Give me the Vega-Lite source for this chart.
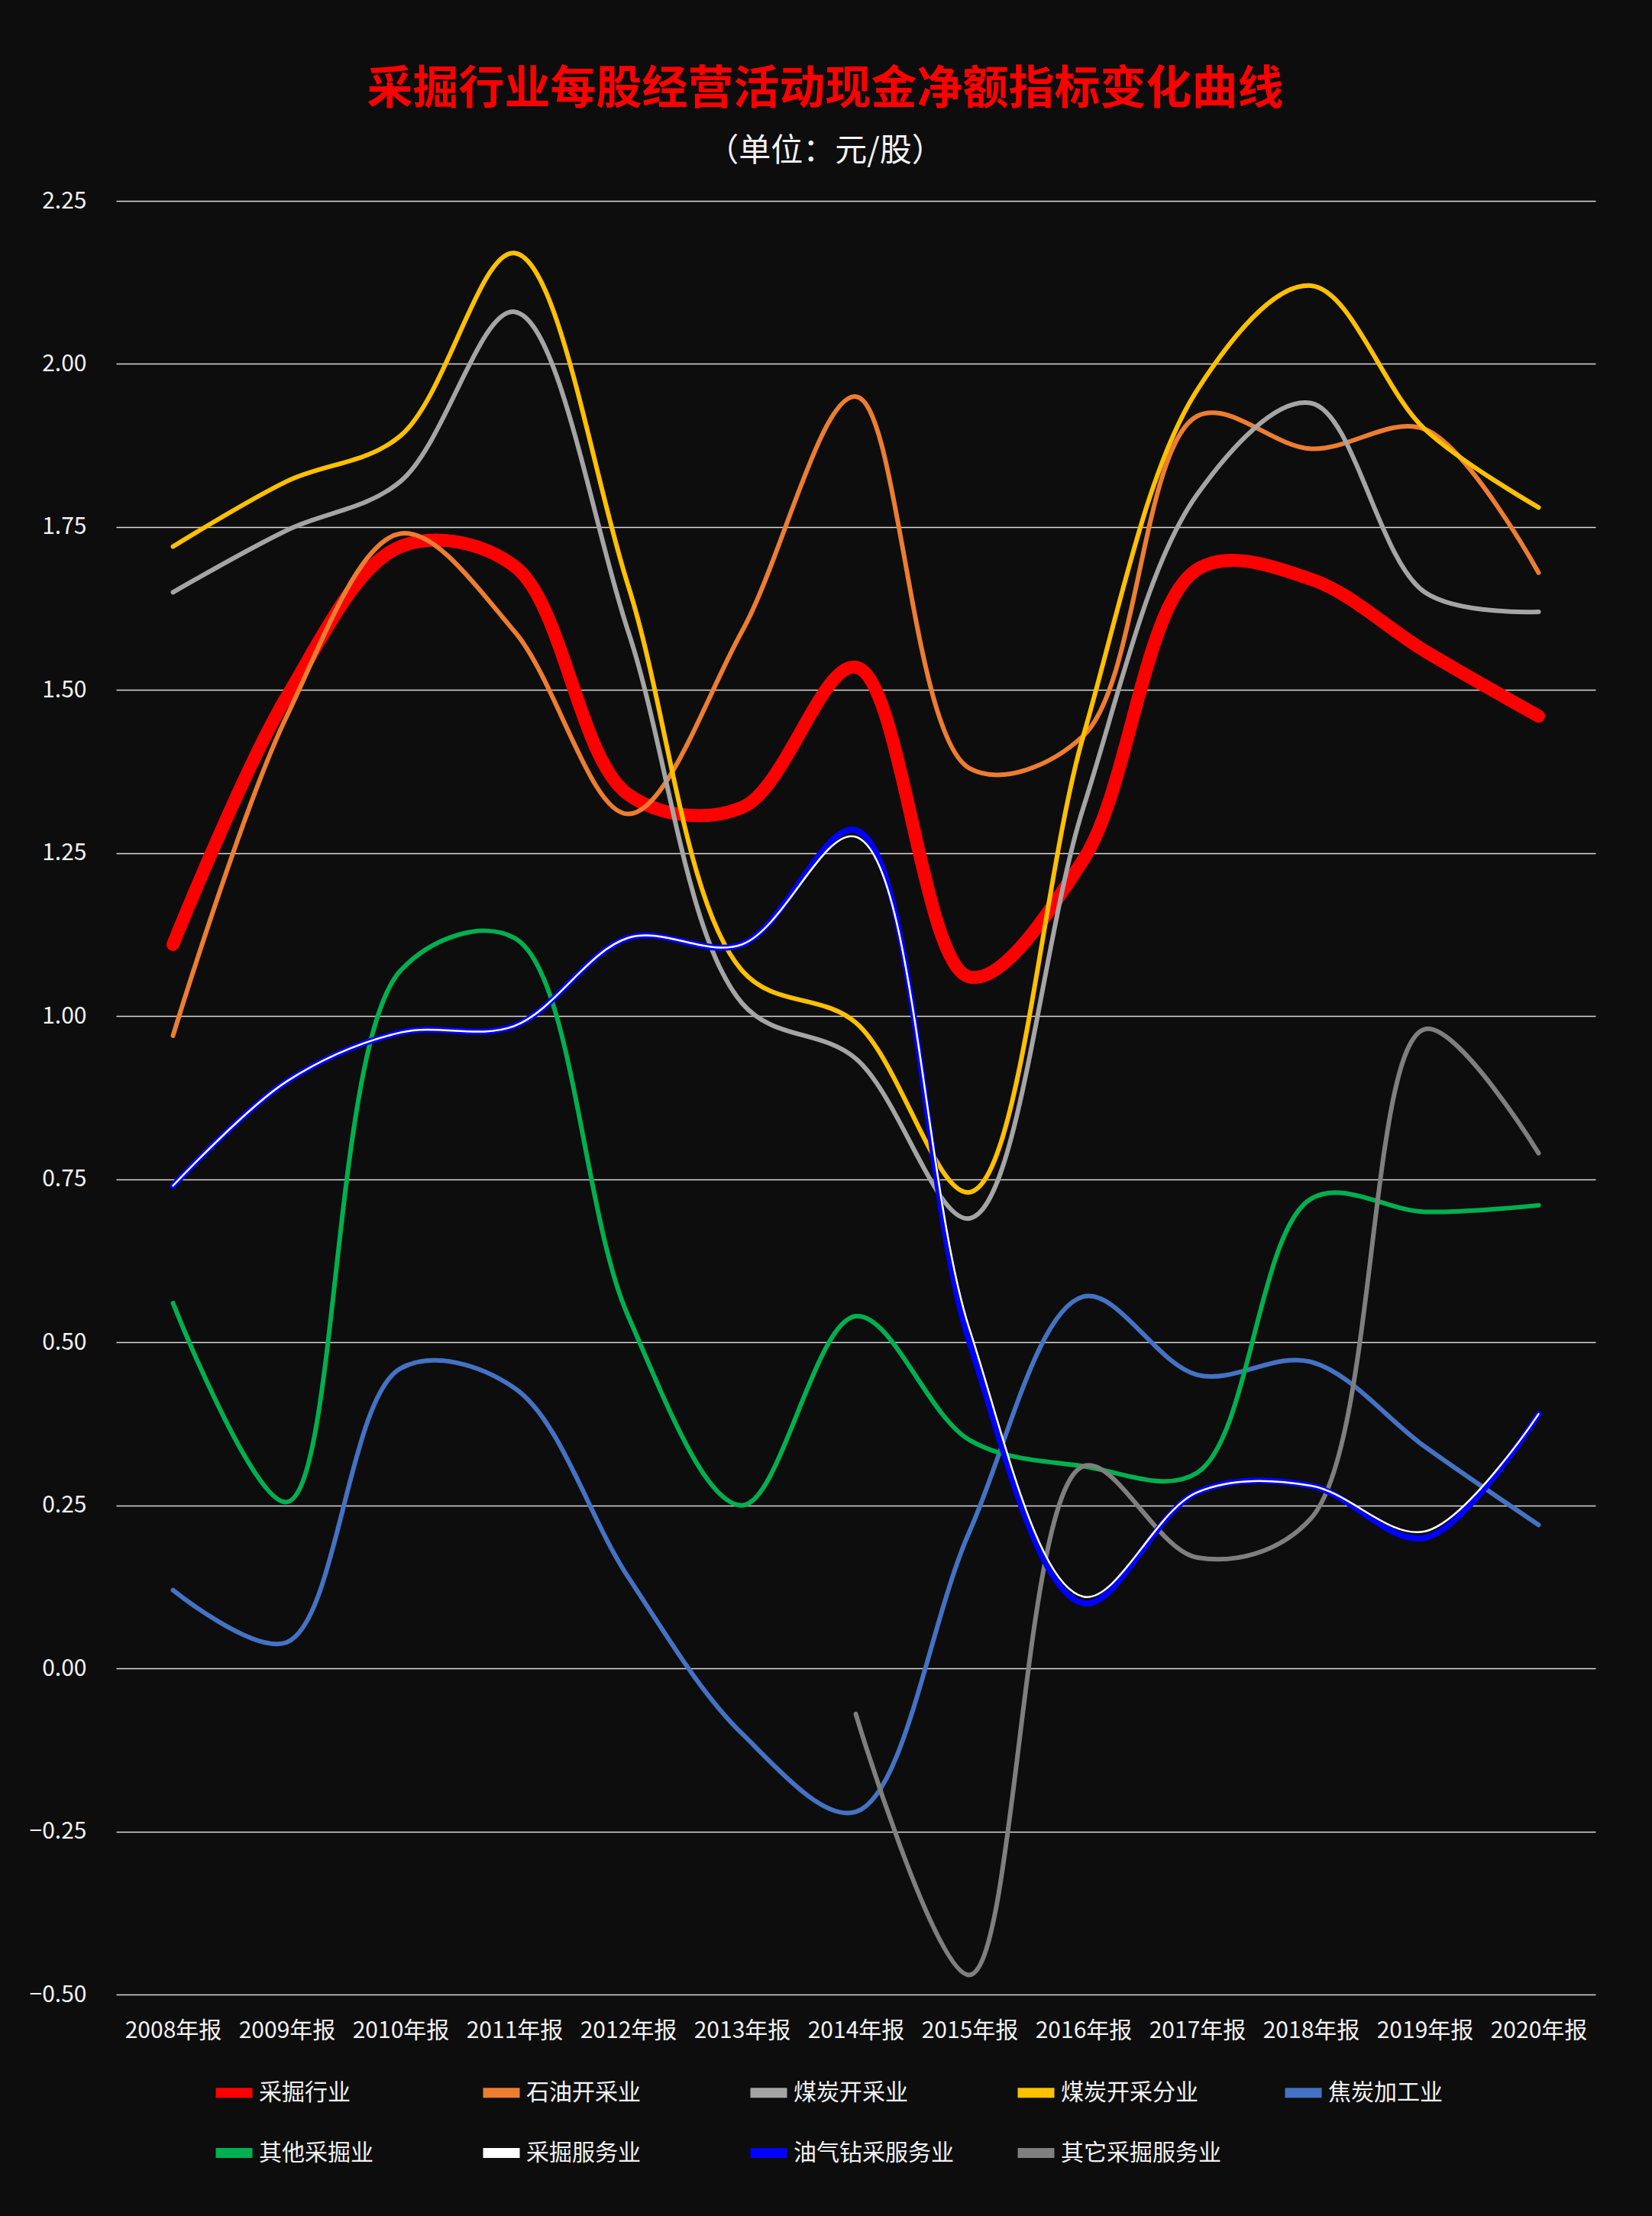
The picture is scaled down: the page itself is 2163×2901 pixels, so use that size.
{
  "$schema": "https://vega.github.io/schema/vega-lite/v6.json",
  "autosize": {"type": "none"},
  "width": 1937,
  "height": 2348,
  "padding": {"left": 152, "top": 263, "right": 74, "bottom": 290},
  "background": "#0d0d0d",
  "config": {
    "view": {"stroke": null},
    "font": "Noto Sans CJK SC",
    "legend": {
      "orient": "none",
      "legendX": 124,
      "legendY": 2446,
      "direction": "horizontal",
      "columns": 5,
      "gridAlign": "all",
      "columnPadding": 57,
      "rowPadding": 22,
      "symbolType": "stroke",
      "symbolSize": 2304,
      "symbolStrokeWidth": 13,
      "labelFont": "Noto Sans CJK SC",
      "labelFontSize": 30,
      "labelColor": "#f2f2f2",
      "labelOffset": 2,
      "labelLimit": 0,
      "padding": 0
    }
  },
  "title": {
    "text": "采掘行业每股经营活动现金净额指标变化曲线",
    "subtitle": "（单位：元/股）",
    "anchor": "middle",
    "frame": "group",
    "dx": -40,
    "offset": 28,
    "font": "Noto Sans CJK SC",
    "fontSize": 60,
    "fontWeight": "bold",
    "color": "#ff0000",
    "subtitleFont": "Noto Sans CJK SC",
    "subtitleFontSize": 42,
    "subtitleColor": "#f2f2f2",
    "subtitlePadding": 29
  },
  "data": {"values": [
    {"year":"2008年报","series":"采掘行业","value":1.11},
    {"year":"2009年报","series":"采掘行业","value":1.49},
    {"year":"2010年报","series":"采掘行业","value":1.72},
    {"year":"2011年报","series":"采掘行业","value":1.69},
    {"year":"2012年报","series":"采掘行业","value":1.34},
    {"year":"2013年报","series":"采掘行业","value":1.32},
    {"year":"2014年报","series":"采掘行业","value":1.535},
    {"year":"2015年报","series":"采掘行业","value":1.06},
    {"year":"2016年报","series":"采掘行业","value":1.24},
    {"year":"2017年报","series":"采掘行业","value":1.685},
    {"year":"2018年报","series":"采掘行业","value":1.67},
    {"year":"2019年报","series":"采掘行业","value":1.56},
    {"year":"2020年报","series":"采掘行业","value":1.46},
    {"year":"2008年报","series":"石油开采业","value":0.97},
    {"year":"2009年报","series":"石油开采业","value":1.46},
    {"year":"2010年报","series":"石油开采业","value":1.74},
    {"year":"2011年报","series":"石油开采业","value":1.59},
    {"year":"2012年报","series":"石油开采业","value":1.31},
    {"year":"2013年报","series":"石油开采业","value":1.59},
    {"year":"2014年报","series":"石油开采业","value":1.95},
    {"year":"2015年报","series":"石油开采业","value":1.38},
    {"year":"2016年报","series":"石油开采业","value":1.43},
    {"year":"2017年报","series":"石油开采业","value":1.92},
    {"year":"2018年报","series":"石油开采业","value":1.87},
    {"year":"2019年报","series":"石油开采业","value":1.90},
    {"year":"2020年报","series":"石油开采业","value":1.68},
    {"year":"2008年报","series":"煤炭开采业","value":1.65},
    {"year":"2009年报","series":"煤炭开采业","value":1.745},
    {"year":"2010年报","series":"煤炭开采业","value":1.82},
    {"year":"2011年报","series":"煤炭开采业","value":2.08},
    {"year":"2012年报","series":"煤炭开采业","value":1.59},
    {"year":"2013年报","series":"煤炭开采业","value":1.02},
    {"year":"2014年报","series":"煤炭开采业","value":0.935},
    {"year":"2015年报","series":"煤炭开采业","value":0.69},
    {"year":"2016年报","series":"煤炭开采业","value":1.32},
    {"year":"2017年报","series":"煤炭开采业","value":1.80},
    {"year":"2018年报","series":"煤炭开采业","value":1.94},
    {"year":"2019年报","series":"煤炭开采业","value":1.65},
    {"year":"2020年报","series":"煤炭开采业","value":1.62},
    {"year":"2008年报","series":"煤炭开采分业","value":1.72},
    {"year":"2009年报","series":"煤炭开采分业","value":1.82},
    {"year":"2010年报","series":"煤炭开采分业","value":1.89},
    {"year":"2011年报","series":"煤炭开采分业","value":2.17},
    {"year":"2012年报","series":"煤炭开采分业","value":1.66},
    {"year":"2013年报","series":"煤炭开采分业","value":1.07},
    {"year":"2014年报","series":"煤炭开采分业","value":0.99},
    {"year":"2015年报","series":"煤炭开采分业","value":0.73},
    {"year":"2016年报","series":"煤炭开采分业","value":1.43},
    {"year":"2017年报","series":"煤炭开采分业","value":1.96},
    {"year":"2018年报","series":"煤炭开采分业","value":2.12},
    {"year":"2019年报","series":"煤炭开采分业","value":1.90},
    {"year":"2020年报","series":"煤炭开采分业","value":1.78},
    {"year":"2008年报","series":"焦炭加工业","value":0.12},
    {"year":"2009年报","series":"焦炭加工业","value":0.04},
    {"year":"2010年报","series":"焦炭加工业","value":0.46},
    {"year":"2011年报","series":"焦炭加工业","value":0.43},
    {"year":"2012年报","series":"焦炭加工业","value":0.14},
    {"year":"2013年报","series":"焦炭加工业","value":-0.10},
    {"year":"2014年报","series":"焦炭加工业","value":-0.22},
    {"year":"2015年报","series":"焦炭加工业","value":0.21},
    {"year":"2016年报","series":"焦炭加工业","value":0.57},
    {"year":"2017年报","series":"焦炭加工业","value":0.45},
    {"year":"2018年报","series":"焦炭加工业","value":0.47},
    {"year":"2019年报","series":"焦炭加工业","value":0.34},
    {"year":"2020年报","series":"焦炭加工业","value":0.22},
    {"year":"2008年报","series":"其他采掘业","value":0.56},
    {"year":"2009年报","series":"其他采掘业","value":0.255},
    {"year":"2010年报","series":"其他采掘业","value":1.07},
    {"year":"2011年报","series":"其他采掘业","value":1.12},
    {"year":"2012年报","series":"其他采掘业","value":0.54},
    {"year":"2013年报","series":"其他采掘业","value":0.25},
    {"year":"2014年报","series":"其他采掘业","value":0.54},
    {"year":"2015年报","series":"其他采掘业","value":0.35},
    {"year":"2016年报","series":"其他采掘业","value":0.31},
    {"year":"2017年报","series":"其他采掘业","value":0.30},
    {"year":"2018年报","series":"其他采掘业","value":0.72},
    {"year":"2019年报","series":"其他采掘业","value":0.70},
    {"year":"2020年报","series":"其他采掘业","value":0.71},
    {"year":"2008年报","series":"油气钻采服务业","value":0.74},
    {"year":"2009年报","series":"油气钻采服务业","value":0.90},
    {"year":"2010年报","series":"油气钻采服务业","value":0.975},
    {"year":"2011年报","series":"油气钻采服务业","value":0.985},
    {"year":"2012年报","series":"油气钻采服务业","value":1.12},
    {"year":"2013年报","series":"油气钻采服务业","value":1.11},
    {"year":"2014年报","series":"油气钻采服务业","value":1.285},
    {"year":"2015年报","series":"油气钻采服务业","value":0.50},
    {"year":"2016年报","series":"油气钻采服务业","value":0.10},
    {"year":"2017年报","series":"油气钻采服务业","value":0.27},
    {"year":"2018年报","series":"油气钻采服务业","value":0.28},
    {"year":"2019年报","series":"油气钻采服务业","value":0.20},
    {"year":"2020年报","series":"油气钻采服务业","value":0.39},
    {"year":"2014年报","series":"其它采掘服务业","value":-0.07},
    {"year":"2015年报","series":"其它采掘服务业","value":-0.47},
    {"year":"2016年报","series":"其它采掘服务业","value":0.31},
    {"year":"2017年报","series":"其它采掘服务业","value":0.17},
    {"year":"2018年报","series":"其它采掘服务业","value":0.23},
    {"year":"2019年报","series":"其它采掘服务业","value":0.98},
    {"year":"2020年报","series":"其它采掘服务业","value":0.79},
    {"year":"2008年报","series":"采掘服务业","value":0.74},
    {"year":"2009年报","series":"采掘服务业","value":0.90},
    {"year":"2010年报","series":"采掘服务业","value":0.975},
    {"year":"2011年报","series":"采掘服务业","value":0.985},
    {"year":"2012年报","series":"采掘服务业","value":1.12},
    {"year":"2013年报","series":"采掘服务业","value":1.11},
    {"year":"2014年报","series":"采掘服务业","value":1.275},
    {"year":"2015年报","series":"采掘服务业","value":0.52},
    {"year":"2016年报","series":"采掘服务业","value":0.11},
    {"year":"2017年报","series":"采掘服务业","value":0.27},
    {"year":"2018年报","series":"采掘服务业","value":0.28},
    {"year":"2019年报","series":"采掘服务业","value":0.21},
    {"year":"2020年报","series":"采掘服务业","value":0.39}
  ]},
  "encoding": {
    "x": {
      "field": "year", "type": "ordinal",
      "scale": {"type": "point", "padding": 0.5},
      "axis": {
        "title": null, "labelAngle": 0, "ticks": false, "domain": false,
        "labelFont": "Noto Sans CJK SC", "labelFontSize": 30, "labelColor": "#f2f2f2",
        "labelPadding": 32
      }
    },
    "y": {
      "field": "value", "type": "quantitative",
      "scale": {"domain": [-0.5, 2.25], "nice": false, "zero": false},
      "axis": {
        "title": null, "values": [-0.5, -0.25, 0, 0.25, 0.5, 0.75, 1, 1.25, 1.5, 1.75, 2, 2.25],
        "format": ".2f", "ticks": false, "domain": false,
        "grid": true, "gridColor": "#d9d9d9", "gridWidth": 1.5,
        "labelFont": "Noto Sans CJK SC", "labelFontSize": 30, "labelColor": "#f2f2f2",
        "labelPadding": 39
      }
    },
    "color": {
      "field": "series", "type": "nominal",
      "scale": {
        "domain": ["采掘行业", "石油开采业", "煤炭开采业", "煤炭开采分业", "焦炭加工业", "其他采掘业", "采掘服务业", "油气钻采服务业", "其它采掘服务业"],
        "range": ["#ff0000", "#ed7d31", "#a5a5a5", "#ffc000", "#4472c4", "#00b050", "#ffffff", "#0000ff", "#7f7f7f"]
      },
      "legend": {"title": null}
    }
  },
  "layer": [
    {
      "transform": [{"filter": "datum.series === '采掘行业'"}],
      "mark": {"type": "line", "interpolate": "catmull-rom", "strokeWidth": 17, "strokeCap": "round"}
    },
    {
      "transform": [{"filter": "datum.series !== '采掘行业' && datum.series !== '采掘服务业' && datum.series !== '油气钻采服务业'"}],
      "mark": {"type": "line", "interpolate": "catmull-rom", "strokeWidth": 6, "strokeCap": "round"}
    },
    {
      "transform": [{"filter": "datum.series === '油气钻采服务业'"}],
      "mark": {"type": "line", "interpolate": "catmull-rom", "strokeWidth": 8, "strokeCap": "round"}
    },
    {
      "transform": [{"filter": "datum.series === '采掘服务业'"}],
      "mark": {"type": "line", "interpolate": "catmull-rom", "strokeWidth": 2.5, "strokeCap": "round"}
    }
  ]
}
